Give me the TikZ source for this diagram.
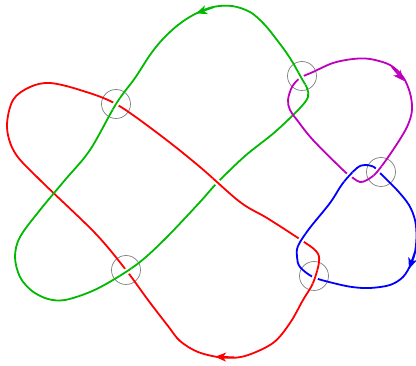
\documentclass[tikz,border=0pt]{standalone}
\usetikzlibrary{arrows.meta}
\definecolor{kred}{RGB}{255,0,0}
\definecolor{kgreen}{RGB}{0,185,0}
\definecolor{kpurple}{RGB}{190,0,190}
\definecolor{kblue}{RGB}{0,0,255}
\definecolor{kgray}{RGB}{128,128,128}
\newcommand\kcross[3]{\begin{scope}\clip (#1) circle[radius=7pt];
  \draw[white, line width=6pt] #2; \draw[strand,#3] #2; \end{scope}}
\begin{document}
\begin{tikzpicture}[x=1pt,y=-1pt,
  strand/.style={line width=1.8pt, line join=round},
  ring/.style={circle, draw=kgray, line width=0.7pt, minimum size=29pt, inner sep=0pt},
  tip/.style={-{Stealth[length=11pt,width=9pt,inset=3pt]}}]
\useasboundingbox (0,0) rectangle (416,366);

\def\redpath{plot[smooth cycle, tension=0.55] coordinates {
 (222,357.5) (198,352) (180,341) (168,326) (148,300) (126,270) (95,233)
 (40,180) (15,153) (7,127)
 (13,100) (30,87) (50,83) (80,90) (116,104) (160,135) (200,167) (240,202)
 (267,218) (298,238) (316,251) (319,262) (313,283) (303,300) (290,323)
 (273,343) (245,356)}}
\def\greenpath{plot[smooth cycle, tension=0.55] coordinates {
 (277,40) (264,24) (250,12) (232,6) (213,7) (195,14) (178,25) (162,40)
 (150,55) (135,78) (116,104) (90,150) (65,180) (40,210) (20,237) (15,257)
 (20,277) (32,291) (48,299) (65,300) (90,292) (113,280) (140,262) (167,237)
 (200,202) (217,183) (245,156) (275,132) (300,108) (308,97) (307,88) (302,79)
 (290,58)}}
\def\purplepath{plot[smooth cycle, tension=0.55] coordinates {
 (313,72) (333,63) (353,59) (370,59) (390,65) (403,77) (410,93) (412,110)
 (407,127) (393,150) (377,172) (367,180) (360,182) (353,178) (343,170)
 (313,140) (297,120) (290,110) (288,100) (292,87) (300,78)}}
\def\bluepath{plot[smooth cycle, tension=0.55] coordinates {
 (380,173) (397,190) (409,205) (415,220) (416.5,236) (415,252) (411,264)
 (403,277) (390,285) (370,288) (352,287) (333,283) (313,277) (300,267)
 (297,257) (298,246) (309,229) (330,203) (343,183) (357,168) (365,165)
 (374,167)}}

% crossing rings
\node[ring] (c1) at (116,104) {};
\node[ring] (c2) at (302,76) {};
\node[ring] (c3) at (381,172) {};
\node[ring] (c4) at (126,270) {};
\node[ring] (c5) at (314,276) {};

% strands
\draw[strand,kred] \redpath;
\draw[strand,kgreen] \greenpath;
\draw[strand,kpurple] \purplepath;
\draw[strand,kblue] \bluepath;

% over-strands
\kcross{115,103}{\greenpath}{kgreen}
\kcross{125,271}{\greenpath}{kgreen}
\kcross{217,184}{\redpath}{kred}
\kcross{303,78}{\greenpath}{kgreen}
\kcross{346,175}{\bluepath}{kblue}
\kcross{380,173}{\purplepath}{kpurple}
\kcross{302,240}{\bluepath}{kblue}
\kcross{315,277}{\redpath}{kred}

% direction arrows
\coordinate (ra1) at (234,357.3); \coordinate (ra2) at (215,356.8);
\draw[strand,kred,tip] (ra1) -- (ra2);
\coordinate (ga1) at (214,7); \coordinate (ga2) at (196,13.5);
\draw[strand,kgreen,tip] (ga1) -- (ga2);
\coordinate (pa1) at (392,67); \coordinate (pa2) at (404,81);
\draw[strand,kpurple,tip] (pa1) -- (pa2);
\coordinate (ba1) at (415,252); \coordinate (ba2) at (409,269);
\draw[strand,kblue,tip] (ba1) -- (ba2);
\end{tikzpicture}
\end{document}
